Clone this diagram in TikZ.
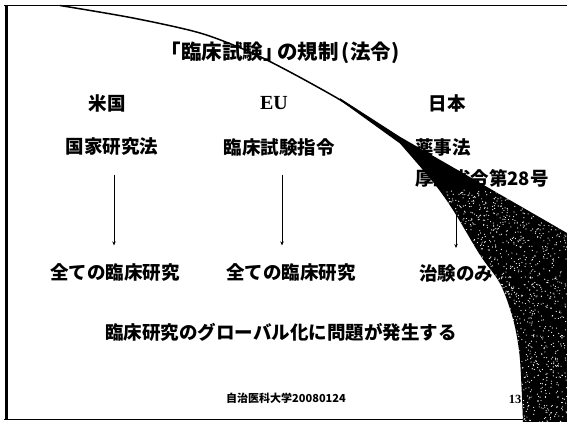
\documentclass[tikz,border=0pt]{standalone}
\usepackage{fontspec}
\setmainfont{Liberation Serif}
\newfontfamily\jp{Noto Sans CJK JP}
\usetikzlibrary{arrows.meta}
\begin{document}
\begin{tikzpicture}[x=1pt,y=-1pt,
  jt/.style={font=\jp\bfseries\fontsize{18.5}{20}\selectfont, inner sep=0pt},
  tt/.style={font=\jp\bfseries\fontsize{20.5}{22}\selectfont, inner sep=0pt},
  eut/.style={font=\bfseries\fontsize{20}{21}\selectfont, inner sep=0pt},
  ft/.style={font=\jp\bfseries\fontsize{11}{12}\selectfont, inner sep=0pt},
  pg/.style={font=\bfseries\fontsize{12.5}{13}\selectfont, inner sep=0pt},
  arr/.style={line width=0.9pt, -{Stealth[length=4pt,width=3.5pt]}},
  border/.style={line width=1.8pt},
  wedge/.style={fill=black}]
\useasboundingbox (0,0) rectangle (567,422);
\fill[white] (0,0) rectangle (567,422);

% frame
\draw[border] (4,5.5) -- (567,5.5);
\draw[border] (4,419.5) -- (567,419.5);
\draw[line width=2.6pt] (6.3,4.6) -- (6.3,420.4);

% texts
\node[tt] (title) at (280,53) {「臨床試験」\kern-0.3em の規制\kern0.15em(法令)};
\node[jt] (us) at (107,103) {米国};
\node[eut] (eu) at (274,103) {EU};
\node[jt] (jp) at (447,103) {日本};
\node[jt] (uslaw) at (112,147) {国家研究法};
\node[jt] (eulaw) at (279,147) {臨床試験指令};
\node[jt, anchor=west] (jplaw) at (415,147) {薬事法};
\node[jt, anchor=west] (jpord) at (415,178) {厚生省令第28号};
\node[jt] (usres) at (115,273) {全ての臨床研究};
\node[jt] (eures) at (291,273) {全ての臨床研究};
\node[jt, anchor=west] (jpres) at (419,273) {治験のみ};
\node[jt] (concl) at (281,332) {臨床研究のグローバル化に問題が発生する};
\node[ft] (foot) at (286,398) {自治医科大学20080124};

% arrows
\coordinate (x1) at (114,0);
\coordinate (x2) at (282,0);
\coordinate (x3) at (456,0);
\draw[arr, shorten <=18.5pt, shorten >=18.5pt] (uslaw.south -| x1) -- (usres.north -| x1);
\draw[arr, shorten <=18.5pt, shorten >=18.5pt] (eulaw.south -| x2) -- (eures.north -| x2);
\draw[arr, shorten <=6pt, shorten >=16pt] (jpord.south -| x3) -- (jpres.north -| x3);

% sweeping curve and wedge
\draw[line width=1.5pt] plot[smooth] coordinates {(60,5.5) (133,18) (200,33) (250,52) (290,72) (337,98) (367,117) (402,140)};
\path[wedge] (340,98.2) -- (400,136.8) -- (567,233) -- (567,422) -- (523,422)
  -- plot[smooth] coordinates {(523,422) (520,360) (515,327) (507,300) (498,280) (480,255) (453,210) (433,182) (400,143.5)}
  -- (340,100.3) -- cycle;
\begin{scope}
\clip (400,136.8) -- (567,233) -- (567,422) -- (523,422)
  -- plot[smooth] coordinates {(523,422) (520,360) (515,327) (507,300) (498,280) (480,255) (453,210) (433,182) (400,143.5)} -- cycle;
\pgfmathsetseed{7}
\foreach \i in {1,...,1800} {
  \pgfmathsetmacro\px{440+127*rnd}
  \pgfmathsetmacro\py{190+232*rnd}
  \fill[white] (\px,\py) circle (0.6pt);
}
\end{scope}
\node[pg] (page) at (515,399) {13};
\end{tikzpicture}
\end{document}
